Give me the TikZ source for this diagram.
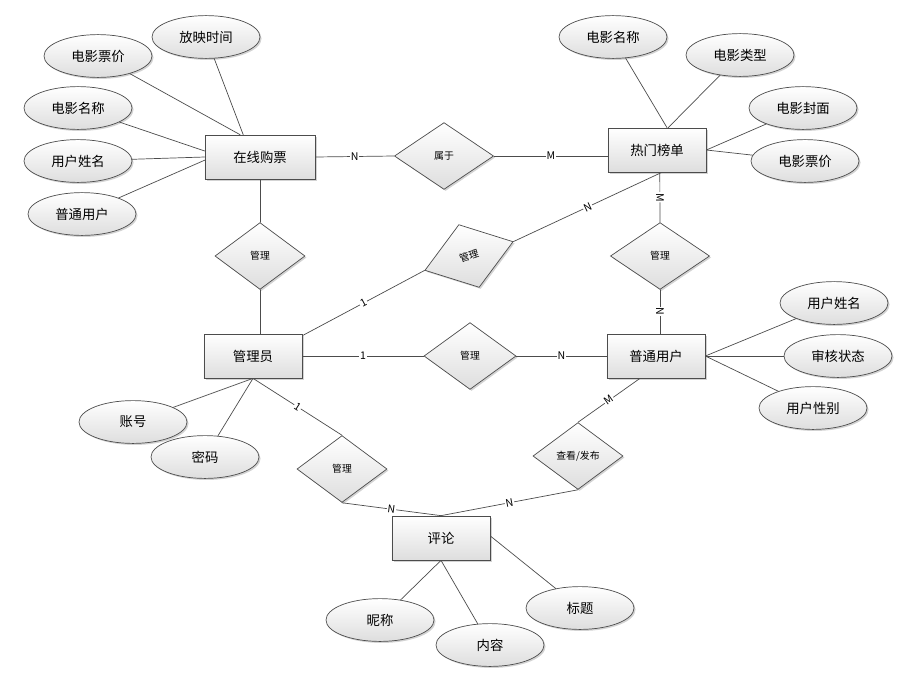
\documentclass[tikz,border=0pt]{standalone}
\usepackage{fontspec}
\setmainfont{Noto Sans CJK SC}
\usetikzlibrary{shapes.geometric,shadows}

\begin{document}
\begin{tikzpicture}[x=0.025cm,y=-0.025cm,line cap=round,
  link/.style={draw=black!70,line width=0.5pt},
  boxshade/.style={draw=black!70,line width=0.5pt,top color=white,bottom color=black!13,
    drop shadow={shadow xshift=1.1pt,shadow yshift=-1.1pt,opacity=0.35}},
  entity/.style={boxshade,rectangle,minimum width=2.45cm,minimum height=1.1cm,
    font=\fontsize{9.5}{11}\selectfont},
  attr/.style={boxshade,ellipse,minimum width=2.7cm,minimum height=1.07cm,inner sep=0pt,
    font=\fontsize{9.5}{11}\selectfont},
  rel/.style={boxshade,diamond,minimum width=2.25cm,minimum height=1.67cm,inner sep=0pt,
    font=\fontsize{7}{8}\selectfont},
  card/.style={fill=white,inner sep=0.6pt,font=\fontsize{7.5}{8}\selectfont}]
\useasboundingbox (0,0) rectangle (911,691);

% entities
\node[entity,minimum width=2.75cm] (buy) at (260,157) {在线购票};
\node[entity] (hot) at (657,150) {热门榜单};
\node[entity] (admin) at (253,356) {管理员};
\node[entity] (user) at (656,356) {普通用户};
\node[entity] (review) at (441,538) {评论};

% relations
\node[rel,minimum width=2.48cm] (belong) at (444,156) {属于};
\node[rel] (mgbuy) at (260,256) {管理};
\node[rel,minimum width=2.32cm,minimum height=1.65cm,rotate=18] (mghot) at (469,256) {管理};
\node[rel,minimum width=2.48cm] (mguser) at (660,256) {管理};
\node[rel,minimum width=2.3cm] (mgadmin) at (470,356) {管理};
\node[rel] (mgreview) at (342,469) {管理};
\node[rel] (post) at (578,456) {查看/发布};

% attributes
\node[attr] (showtime) at (206,37) {放映时间};
\node[attr] (bprice) at (98,56) {电影票价};
\node[attr] (bname) at (78,108) {电影名称};
\node[attr] (buname) at (78,161) {用户姓名};
\node[attr] (bnormal) at (82,214) {普通用户};
\node[attr] (hname) at (613,37) {电影名称};
\node[attr] (htype) at (740,55) {电影类型};
\node[attr] (hcover) at (803,108) {电影封面};
\node[attr] (hprice) at (805,161) {电影票价};
\node[attr] (uname) at (834,303) {用户姓名};
\node[attr] (ustate) at (838,356) {审核状态};
\node[attr] (usex) at (813,408) {用户性别};
\node[attr] (account) at (133,422) {账号};
\node[attr] (pwd) at (205,457) {密码};
\node[attr] (nick) at (380,620) {昵称};
\node[attr] (content) at (490,645) {内容};
\node[attr] (title) at (580,608) {标题};

% attribute links
\draw[link] (showtime) -- ([xshift=-0.42cm]buy.north);
\draw[link] (bprice) -- ([xshift=-0.5cm]buy.north);
\draw[link] (bname) -- ([yshift=0.15cm]buy.west);
\draw[link] (buname) -- (buy.west);
\draw[link] (bnormal) -- ([yshift=-0.08cm]buy.west);
\draw[link] (hname) -- ([xshift=0.25cm]hot.north);
\draw[link] (htype) -- ([xshift=0.28cm]hot.north);
\draw[link] (hcover) -- (hot.east);
\draw[link] (hprice) -- (hot.east);
\draw[link] (uname) -- (user.east);
\draw[link] (ustate) -- (user.east);
\draw[link] (usex) -- (user.east);
\draw[link] (account) -- (admin.south);
\draw[link] (pwd) -- (admin.south);
\draw[link] (nick) -- (review.south);
\draw[link] (content) -- (review.south);
\draw[link] (title) -- ([yshift=0.05cm]review.east);

% relation links
\draw[link] (buy.east) -- (belong.west) node[card,midway]{N};
\draw[link] (belong.east) -- (belong.east -| hot.west) node[card,midway]{M};
\draw[link] (buy.south) -- (mgbuy.north);
\draw[link] (mgbuy.south) -- (mgbuy.south |- admin.north);
\draw[link] ([yshift=-0.05cm]admin.north east) -- (mghot.west) node[card,midway,sloped]{1};
\draw[link] (mghot.east) -- ([xshift=0.12cm]hot.south) node[card,midway,sloped]{N};
\draw[link] ([xshift=0.07cm]hot.south) -- (mguser.north) node[card,midway,sloped]{M};
\draw[link] (mguser.south) -- (mguser.south |- user.north) node[card,midway,sloped]{N};
\draw[link] (admin.east) -- (mgadmin.west) node[card,midway]{1};
\draw[link] (mgadmin.east) -- (user.west) node[card,midway]{N};
\draw[link] (admin.south) -- (mgreview.north) node[card,midway,sloped]{1};
\draw[link] (mgreview.south) -- (review.north) node[card,midway,sloped]{N};
\draw[link] (post.south) -- (review.north) node[card,midway,sloped]{N};
\draw[link] ([xshift=-0.4cm]user.south) -- (post.north) node[card,midway,sloped]{M};
\end{tikzpicture}
\end{document}
